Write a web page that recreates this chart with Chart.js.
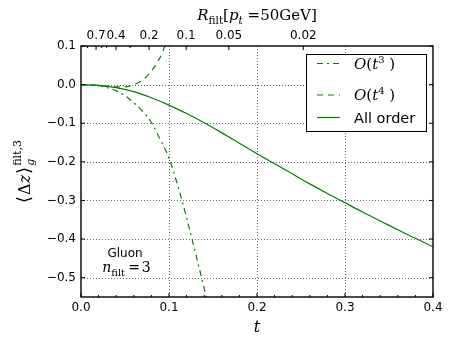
<!DOCTYPE html>
<html lang="en">
<head>
  <meta charset="utf-8">
  <title>Filtered Δz, gluon, n_filt = 3</title>
  <script src="https://cdn.jsdelivr.net/npm/chart.js"></script>
  <style>
    body { margin: 0; background: #fff; }
  </style>
</head>
<body>
  <canvas id="grafico" width="450" height="344"></canvas>

  <script>
// values
const tAll = [0, 0.02, 0.04, 0.06, 0.08, 0.10, 0.12, 0.14, 0.16, 0.18, 0.20,
              0.22, 0.24, 0.26, 0.28, 0.30, 0.32, 0.34, 0.36, 0.38, 0.40];
const allOrder = [0, -0.002, -0.008, -0.018, -0.034, -0.053, -0.075, -0.099, -0.125, -0.152, -0.179,
                  -0.205, -0.231, -0.257, -0.282, -0.306, -0.330, -0.353, -0.376, -0.398, -0.420];

const tO3 = [0, 0.01, 0.02, 0.03, 0.04, 0.05, 0.06, 0.07, 0.08, 0.09, 0.10, 0.11, 0.12, 0.13, 0.14, 0.145];
const o3 = [0, -0.001, -0.003, -0.008, -0.016, -0.029, -0.047, -0.069, -0.098, -0.142, -0.19,
            -0.262, -0.345, -0.435, -0.528, -0.575];

const tO4 = [0, 0.01, 0.02, 0.03, 0.04, 0.05, 0.06, 0.07, 0.075, 0.08, 0.085, 0.09, 0.095, 0.098];
const o4 = [0, -0.0005, -0.002, -0.004, -0.006, -0.006, 0.000, 0.012, 0.022, 0.035, 0.052, 0.071, 0.098, 0.118];

// axes
const xTicks = [0, 0.1, 0.2, 0.3, 0.4];
const xMinor = [0.02, 0.04, 0.06, 0.08, 0.12, 0.14, 0.16, 0.18, 0.22, 0.24, 0.26, 0.28, 0.32, 0.34, 0.36, 0.38];
const yTicks = [0.1, 0.0, -0.1, -0.2, -0.3, -0.4, -0.5];
// top axis: R_filt at pt = 50 GeV, placed on the t scale
const rTickPos = [0.0075, 0.0171, 0.0236, 0.0292, 0.0398, 0.0558, 0.0774, 0.1195, 0.168, 0.2526];
const rTickLabels = ['', '0.7', '', '', '0.4', '', '0.2', '0.1', '0.05', '0.02'];

const verde = '#008000';
const SANS = '"DejaVu Sans", sans-serif';
const SERIF = '"DejaVu Serif", "DejaVu Sans", serif';

const pts = (xs, ys) => xs.map((x, i) => ({ x: x, y: ys[i] }));

// draws a list of text pieces one after another, returns end x
function piezas(ctx, parts, x, y) {
  parts.forEach(p => {
    ctx.font = p.f;
    ctx.fillText(p.t, x, y + (p.dy || 0));
    x += ctx.measureText(p.t).width + (p.gap || 0);
  });
  return x;
}
function anchoPiezas(ctx, parts) {
  let w = 0;
  parts.forEach(p => { ctx.font = p.f; w += ctx.measureText(p.t).width + (p.gap || 0); });
  return w;
}

const ordenO = (n) => [
  { t: 'O', f: 'italic 15px ' + SERIF },
  { t: '(', f: '15px ' + SERIF },
  { t: 't', f: 'italic 15px ' + SERIF },
  { t: n, f: '10px ' + SERIF, dy: -6 },
  { t: ' )', f: '15px ' + SERIF }
];

// grid, frame, inward ticks, legend and the math labels
const decorado = {
  id: 'decorado',
  beforeDatasetsDraw(chart) {
    const { ctx, chartArea: a, scales } = chart;
    ctx.save();
    ctx.strokeStyle = 'rgba(0,0,0,0.6)';
    ctx.lineWidth = 1;
    ctx.setLineDash([1, 2]);
    xTicks.slice(1, -1).forEach(v => {
      const px = Math.round(scales.x.getPixelForValue(v)) + 0.5;
      ctx.beginPath(); ctx.moveTo(px, a.top); ctx.lineTo(px, a.bottom); ctx.stroke();
    });
    yTicks.slice(1).forEach(v => {
      const py = Math.round(scales.y.getPixelForValue(v)) + 0.5;
      ctx.beginPath(); ctx.moveTo(a.left, py); ctx.lineTo(a.right, py); ctx.stroke();
    });
    ctx.restore();
  },
  afterDatasetsDraw(chart) {
    const { ctx, chartArea: a, scales } = chart;
    ctx.save();
    ctx.strokeStyle = '#000';
    ctx.lineWidth = 1;

    const tick = (x1, y1, x2, y2) => { ctx.beginPath(); ctx.moveTo(x1, y1); ctx.lineTo(x2, y2); ctx.stroke(); };
    xTicks.forEach(v => { const p = scales.x.getPixelForValue(v); tick(p, a.bottom, p, a.bottom - 4); });
    xMinor.forEach(v => { const p = scales.x.getPixelForValue(v); tick(p, a.bottom, p, a.bottom - 2); });
    yTicks.forEach(v => {
      const p = scales.y.getPixelForValue(v);
      tick(a.left, p, a.left + 4, p);
      tick(a.right, p, a.right - 4, p);
    });
    rTickPos.forEach((v, i) => {
      const p = scales.x2.getPixelForValue(v);
      tick(p, a.top, p, a.top + (rTickLabels[i] ? 4 : 2));
    });

    ctx.lineWidth = 1.4;
    ctx.strokeRect(a.left, a.top, a.right - a.left, a.bottom - a.top);

    // legend box
    const lx = 306.5, ly = 54.5, lw = 120, lh = 77;
    ctx.fillStyle = '#fff';
    ctx.fillRect(lx, ly, lw, lh);
    ctx.lineWidth = 1;
    ctx.strokeRect(lx, ly, lw, lh);

    const filas = [63.5, 95, 117.5];
    chart.data.datasets.forEach((ds, i) => {
      const y = filas[i];
      ctx.strokeStyle = ds.borderColor;
      ctx.lineWidth = ds.borderWidth;
      ctx.setLineDash(ds.borderDash || []);
      tick(317, y, 340, y);
      ctx.setLineDash([]);
    });
    ctx.fillStyle = '#000';
    ctx.textBaseline = 'alphabetic';
    ctx.textAlign = 'left';
    piezas(ctx, ordenO('3'), 354, filas[0] + 5);
    piezas(ctx, ordenO('4'), 354, filas[1] + 5);
    ctx.font = '14.5px ' + SANS;
    ctx.fillText('All order', 354, filas[2] + 5.3);

    // Gluon, n_filt = 3
    ctx.textAlign = 'center';
    ctx.font = '12px ' + SANS;
    ctx.fillText('Gluon', 125, 256.5);
    ctx.textAlign = 'left';
    const nf = [
      { t: 'n', f: 'italic 14px ' + SERIF },
      { t: 'filt', f: '10px ' + SERIF, dy: 4, gap: 3 },
      { t: '=', f: '14px ' + SERIF, gap: 2 },
      { t: '3', f: '14px ' + SERIF }
    ];
    piezas(ctx, nf, 126.5 - anchoPiezas(ctx, nf) / 2, 272);

    ctx.restore();
  },
  afterDraw(chart) {
    const { ctx, chartArea: a } = chart;
    const cx = (a.left + a.right) / 2;
    ctx.save();
    ctx.fillStyle = '#000';
    ctx.textAlign = 'left';
    ctx.textBaseline = 'alphabetic';

    // top title
    const tit = [
      { t: 'R', f: 'italic 15px ' + SERIF },
      { t: 'filt', f: '10.5px ' + SERIF, dy: 4 },
      { t: '[', f: '15px ' + SERIF },
      { t: 'p', f: 'italic 15px ' + SERIF },
      { t: 't', f: 'italic 10.5px ' + SERIF, dy: 4 },
      { t: ' =50GeV]', f: '15px ' + SERIF }
    ];
    piezas(ctx, tit, cx - anchoPiezas(ctx, tit) / 2, 19.5);

    // x title
    ctx.textAlign = 'center';
    ctx.font = 'italic 16px ' + SERIF;
    ctx.fillText('t', cx, 331.5);

    // y title, rotated
    ctx.textAlign = 'left';
    ctx.translate(24, (a.top + a.bottom) / 2);
    ctx.rotate(-Math.PI / 2);
    const base = [
      { t: '\u27E8', f: '18px ' + SERIF, gap: 1 },
      { t: '\u0394', f: '16px ' + SERIF },
      { t: 'z', f: 'italic 16px ' + SERIF, gap: 1 },
      { t: '\u27E9', f: '18px ' + SERIF, gap: 1 }
    ];
    ctx.font = '11px ' + SERIF;
    const wSup = ctx.measureText('filt,3').width;
    const total = anchoPiezas(ctx, base) + wSup;
    const x0 = -total / 2;
    const xe = piezas(ctx, base, x0, 5.5);
    ctx.font = '11px ' + SERIF;
    ctx.fillText('filt,3', xe, -3);
    ctx.font = 'italic 11px ' + SERIF;
    ctx.fillText('g', xe, 10);
    ctx.restore();
  }
};

const ctx = document.getElementById('grafico').getContext('2d');

new Chart(ctx, {
  type: 'line',
  data: {
    datasets: [
      {
        label: 'O(t^3)',
        data: pts(tO3, o3),
        borderColor: verde,
        borderWidth: 1.2,
        borderDash: [6, 4, 2, 4]
      },
      {
        label: 'O(t^4)',
        data: pts(tO4, o4),
        borderColor: verde,
        borderWidth: 1.2,
        borderDash: [6, 5]
      },
      {
        label: 'All order',
        data: pts(tAll, allOrder),
        borderColor: verde,
        borderWidth: 1.2
      }
    ]
  },
  options: {
    responsive: false,
    animation: false,
    parsing: false,
    cubicInterpolationMode: 'monotone',
    elements: { point: { radius: 0 } },
    layout: { padding: { left: 0, right: 17, top: 0, bottom: 0 } },
    plugins: {
      legend: { display: false },
      tooltip: { enabled: false }
    },
    scales: {
      x: {
        type: 'linear',
        position: 'bottom',
        min: 0, max: 0.4,
        grid: { display: false, drawTicks: false },
        border: { display: false },
        afterBuildTicks: s => { s.ticks = xTicks.map(v => ({ value: v })); },
        afterFit: s => { s.height = 47; },
        ticks: {
          autoSkip: false, maxRotation: 0, padding: 4, color: '#000',
          font: { family: 'DejaVu Sans', size: 12 },
          callback: v => v.toFixed(1)
        }
      },
      x2: {
        type: 'linear',
        position: 'top',
        min: 0, max: 0.4,
        grid: { display: false, drawTicks: false },
        border: { display: false },
        afterBuildTicks: s => { s.ticks = rTickPos.map(v => ({ value: v })); },
        afterFit: s => { s.height = 46; },
        ticks: {
          autoSkip: false, maxRotation: 0, padding: 3, color: '#000',
          font: { family: 'DejaVu Sans', size: 12 },
          callback: (v, i) => rTickLabels[i]
        }
      },
      y: {
        type: 'linear',
        min: -0.55, max: 0.1,
        grid: { display: false, drawTicks: false },
        border: { display: false },
        afterBuildTicks: s => { s.ticks = yTicks.map(v => ({ value: v })); },
        afterFit: s => { s.width = 81; },
        ticks: {
          autoSkip: false, padding: 5, color: '#000',
          font: { family: 'DejaVu Sans', size: 12 },
          callback: v => (v < -1e-9 ? '\u2212' : '') + Math.abs(v).toFixed(1)
        }
      }
    }
  },
  plugins: [decorado]
});
  </script>
</body>
</html>
